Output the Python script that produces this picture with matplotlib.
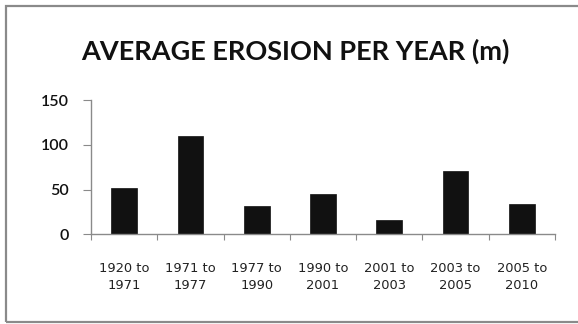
import matplotlib
matplotlib.use("Agg")
import matplotlib.pyplot as plt
from matplotlib.patches import Rectangle

# Average erosion per period (metres per year)
periods = ["1920 to\n1971", "1971 to\n1977", "1977 to\n1990", "1990 to\n2001",
           "2001 to\n2003", "2003 to\n2005", "2005 to\n2010"]
erosion = [52, 110, 32, 45, 16, 71, 34]
y_ticks = [0, 50, 100, 150]

W, H = 578, 324
fig = plt.figure(figsize=(W / 100, H / 100), dpi=100)
fig.patch.set_facecolor("white")

# Chart-area border (open on the right)
fig.patches.append(Rectangle((6 / W, 2 / H), 1.2, 316 / H,
                             transform=fig.transFigure, fill=False,
                             edgecolor="#8a8a8a", linewidth=1.6, zorder=0))

ax = fig.add_axes([91 / W, 1 - 234.3 / H, (555 - 91) / W, (234.3 - 100.3) / H])
x = list(range(len(periods)))
ax.bar(x, erosion, width=0.386, color="#111111", edgecolor="#111111", linewidth=0.5)

ax.set_xlim(-0.5, len(periods) - 0.5)
ax.set_ylim(0, 150)
ax.set_yticks(y_ticks)
ax.set_yticklabels([str(v) for v in y_ticks], fontfamily="Lato", fontweight="semibold",
                   fontsize=11.5, color="#111111")

ax.set_xticks([i - 0.5 for i in range(len(periods) + 1)])
ax.set_xticklabels([])
ax.set_xticks(x, minor=True)
ax.set_xticklabels(periods, minor=True, fontfamily="DejaVu Sans", fontsize=9.4,
                   color="#222222", linespacing=1.4)
ax.tick_params(axis="x", which="minor", length=0, pad=20)
ax.tick_params(axis="x", which="major", length=4, direction="out", color="#8a8a8a")
ax.tick_params(axis="y", length=6, direction="out", color="#8a8a8a", pad=10)

for side in ("top", "right"):
    ax.spines[side].set_visible(False)
for side in ("left", "bottom"):
    ax.spines[side].set_color("#8a8a8a")
    ax.spines[side].set_linewidth(1.0)
ax.set_facecolor("none")

fig.text(295 / W, 1 - 60 / H, "AVERAGE EROSION PER YEAR (m)", ha="center", va="baseline",
         fontfamily="Lato", fontweight="bold", fontsize=19.5, color="#111111")

fig.savefig("out.png", dpi=100, facecolor="white")
